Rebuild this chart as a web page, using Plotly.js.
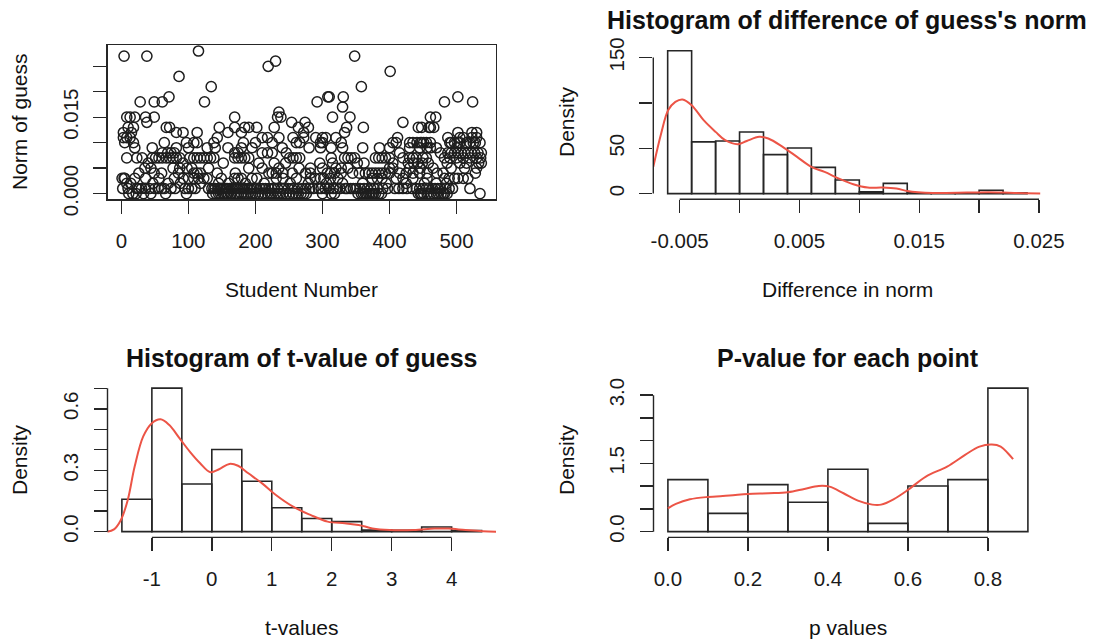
<!DOCTYPE html>
<html><head><meta charset="utf-8">
<script src="https://cdn.plot.ly/plotly-3.0.1.min.js"></script>
<style>html,body{margin:0;padding:0;background:#fff}#chart{width:1099px;height:643px}</style>
</head><body><div id="chart"></div>
<script>
// ---------- Panel 1: Norm of guess by student ----------
const normLevels = [0.000,0.001,0.002,0.003,0.004,0.005,0.006,0.007,0.008,0.009,0.010,0.011,0.012,0.013,0.014,0.015,0.016,0.017,0.018,0.019,0.021,0.023,0.024,0.025,0.026,0.027,0.028];
const studentsByLevel = [
 [11,17,22,33,44,66,97,136,141,145,148,152,154,157,159,163,164,169,172,175,179,183,186,189,193,196,200,205,210,214,218,222,225,230,234,237,241,246,251,256,260,264,268,272,276,300,313,318,353,358,361,364,366,369,371,374,376,379,384,388,443,446,448,451,456,461,466,470,473,477,480,482,486,535],
 [2,10,23,26,30,36,42,50,55,60,64,74,80,95,100,105,110,130,135,138,140,144,147,150,153,156,158,161,165,168,171,174,177,181,184,188,191,194,198,202,207,211,215,220,224,228,233,239,243,249,254,258,263,270,275,281,286,294,298,304,310,316,321,326,334,337,342,346,350,356,362,367,372,377,382,390,397,408,414,420,426,434,440,445,450,455,459,464,468,472,476,484,489,494,520],
 [8,14,47,70,88,118,145,160,185,213,252,279,306,330,360,395,425,452,470,485],
 [1,4,5,20,36,56,79,92,100,108,115,123,128,149,169,174,179,195,202,231,241,261,282,289,297,302,312,323,374,382,389,410,420,435,456,482,489,497,502,510,517],
 [26,49,60,85,108,113,118,143,170,220,225,231,241,255,275,282,307,312,318,328,345,355,364,369,374,379,384,389,394,400,415,425,435,445,456,471,480,528],
 [35,44,77,87,98,105,130,190,210,235,265,282,300,320,328,338,400,405,430,446,465,492,512,530],
 [40,92,152,205,228,245,296,315,352,362,405,428,436,442,449,458,486,505,515,533,537],
 [8,23,31,46,51,56,61,67,72,77,82,87,102,108,113,118,123,128,133,138,169,174,179,184,190,251,256,261,266,313,333,338,343,348,379,384,389,394,400,420,430,435,440,450,455,482,490,500,510,520,530,536],
 [61,69,74,79,169,174,210,218,225,246,415,476,487,492,497,502,507,512,517,522,527,532,537],
 [20,46,82,100,128,140,159,179,195,240,280,297,313,330,360,385,400,430,445,456,461,470,500],
 [5,18,64,97,108,113,138,182,200,225,261,266,297,300,328,405,410,430,435,441,446,448,451,455,461,490,492,497,502,505,515,520,525,528,535],
 [3,8,13,143,210,218,235,256,272,290,300,305,320,412,487,505,510,523,530],
 [3,15,82,92,113,159,179,272,333,502,523,530],
 [10,18,67,72,146,169,184,190,202,228,264,279,336,361,443,448,459,461,466],
 [38,254,274,420],
 [8,13,20,36,49,169,233,238,315,341,461,469],
 [235],
 [330],
 [28,49,61,124,292,482,524],
 [71,308,310,331,502],
 [134,358],
 [86],
 [401],
 [219],
 [230],
 [4,38,348],
 [115]
];

// ---------- Panel 2: Histogram of difference of guess's norm ----------
const diffBreaks  = [-0.006,-0.004,-0.002,0.000,0.002,0.004,0.006,0.008,0.010,0.012,0.014,0.016,0.018,0.020,0.022,0.024];
const diffDensity = [157.4,57.0,58.0,67.8,42.9,50.3,28.9,14.9,1.9,11.2,0.9,0.9,0.9,3.7,0.9];
const diffKdeX = [-0.0072,-0.00655,-0.00595,-0.00536,-0.00476,-0.0040,-0.0030,-0.0020,-0.0012,-0.00015,0.0006,0.00164,0.0024,0.0036,0.0048,0.0060,0.0071,0.0083,0.0095,0.0107,0.0119,0.0131,0.0140,0.0149,0.0161,0.0190,0.0208,0.0220,0.0238,0.0251];
const diffKdeY = [29.4,66,92,101,103.7,97.4,80.9,68,58.8,54.4,58,62.5,60.7,51.5,40.4,29.4,23.9,16.5,10.3,6.6,6.6,5.5,2.9,1.5,0.7,1.1,1.5,1.1,0.4,0];

// ---------- Panel 3: Histogram of t-value of guess ----------
const tBreaks  = [-1.5,-1.0,-0.5,0.0,0.5,1.0,1.5,2.0,2.5,3.0,3.5,4.0,4.5];
const tDensity = [0.158,0.701,0.233,0.401,0.246,0.117,0.064,0.049,0.008,0.007,0.023,0.005];
const tKdeX = [-1.747,-1.632,-1.517,-1.402,-1.287,-1.144,-1.0,-0.856,-0.713,-0.54,-0.368,-0.195,-0.023,0.121,0.293,0.437,0.609,0.839,1.069,1.356,1.644,1.931,2.218,2.448,2.678,2.966,3.368,3.713,3.943,4.23,4.517,4.747];
const tKdeY = [0,0.011,0.057,0.155,0.318,0.465,0.53,0.549,0.522,0.457,0.391,0.334,0.290,0.305,0.331,0.322,0.285,0.236,0.179,0.122,0.082,0.049,0.041,0.033,0.016,0.008,0.008,0.015,0.015,0.008,0.002,0];

// ---------- Panel 4: P-value for each point ----------
const pBreaks  = [0.0,0.1,0.2,0.3,0.4,0.5,0.6,0.7,0.8,0.9];
const pDensity = [1.144,0.403,1.034,0.645,1.372,0.183,1.005,1.144,3.154];
const pKdeX = [0.0,0.02,0.055,0.1,0.154,0.2,0.252,0.3,0.341,0.377,0.404,0.439,0.475,0.511,0.533,0.564,0.6,0.645,0.698,0.743,0.779,0.81,0.832,0.85,0.863];
const pKdeY = [0.513,0.609,0.711,0.763,0.792,0.829,0.844,0.866,0.939,1.005,0.99,0.844,0.682,0.594,0.594,0.711,0.917,1.21,1.43,1.687,1.87,1.914,1.87,1.724,1.592];

// ---------- Tick labels ----------
const p1XTicks = [0,100,200,300,400,500];
const p1YTicks = [0,0.005,0.010,0.015,0.020,0.025];
const p1YText  = ['0.000','','','0.015','',''];
const p2XTicks = [-0.005,0,0.005,0.010,0.015,0.020,0.025];
const p2XText  = ['-0.005','','0.005','','0.015','','0.025'];
const p2YTicks = [0,50,100,150];
const p2YText  = ['0','50','','150'];
const p3XTicks = [-1,0,1,2,3,4];
const p3YTicks = [0,0.1,0.2,0.3,0.4,0.5,0.6,0.7];
const p3YText  = ['0.0','','','0.3','','','0.6',''];
const p4XTicks = [0,0.2,0.4,0.6,0.8];
const p4XText  = ['0.0','0.2','0.4','0.6','0.8'];
const p4YTicks = [0,0.5,1.0,1.5,2.0,2.5,3.0];
const p4YText  = ['0.0','','','1.5','','','3.0'];

// ---------- build ----------
const W = 1099, H = 643;
const LINE = '#262626', RED = 'rgb(236,84,70)';
const FONT = 'Liberation Sans, Arial, Helvetica, sans-serif';
const px = v => v / W, py = v => 1 - v / H;

const sx = [], sy = [];
studentsByLevel.forEach((arr, i) => arr.forEach(s => { sx.push(s); sy.push(normLevels[i]); }));

function histTrace(breaks, dens, xa, ya) {
  const mids = [], widths = [];
  for (let i = 0; i < dens.length; i++) { mids.push((breaks[i] + breaks[i+1]) / 2); widths.push(breaks[i+1] - breaks[i]); }
  return {type:'bar', x:mids, y:dens, width:widths, xaxis:xa, yaxis:ya,
    marker:{color:'rgba(255,255,255,0)', line:{color:LINE, width:1.6}}, hoverinfo:'skip'};
}
function kde(x, y, xa, ya) {
  return {type:'scatter', mode:'lines', x:x, y:y, xaxis:xa, yaxis:ya,
    line:{color:RED, width:2, shape:'spline', smoothing:1}, hoverinfo:'skip'};
}

const data = [
  {type:'scatter', mode:'markers', x:sx, y:sy, xaxis:'x', yaxis:'y',
   marker:{symbol:'circle-open', size:10.2, color:'#1e1e1e', line:{width:1.5, color:'#1e1e1e'}}, hoverinfo:'skip'},
  histTrace(diffBreaks, diffDensity, 'x2', 'y2'),
  kde(diffKdeX, diffKdeY, 'x2', 'y2'),
  histTrace(tBreaks, tDensity, 'x3', 'y3'),
  kde(tKdeX, tKdeY, 'x3', 'y3'),
  histTrace(pBreaks, pDensity, 'x4', 'y4'),
  kde(pKdeX, pKdeY, 'x4', 'y4')
];

const TF = {family:FONT, size:20.5, color:'#1a1a1a'};
function xax(dom, rng, vals, text, anchor, box) {
  return {domain:dom, range:rng, anchor:anchor, tickmode:'array', tickvals:vals, ticktext:text,
    ticks:'outside', ticklen:13, tickwidth:1.4, tickcolor:LINE, tickfont:TF, ticklabelstandoff:10,
    showgrid:false, zeroline:false, showline:!!box, mirror:!!box, linecolor:LINE, linewidth:1.4, fixedrange:true};
}
function yax(dom, rng, vals, text, anchor, box) {
  return {domain:dom, range:rng, anchor:anchor, tickmode:'array', tickvals:vals, ticktext:text, tickangle:-90,
    ticks:'outside', ticklen:13, tickwidth:1.4, tickcolor:LINE, tickfont:TF, ticklabelstandoff:7,
    showgrid:false, zeroline:false, showline:!!box, mirror:!!box, linecolor:LINE, linewidth:1.4, fixedrange:true};
}

const dTop = [py(199.3), py(45)], dBot = [py(537.4), py(382.4)];
const dL1 = [px(107.7), px(495.7)], dR2 = [px(653.3), px(1041.4)];
const dL3 = [px(107.5), px(496)],  dR4 = [px(653.5), px(1042.3)];

const axisLines = [
  {xa:'x2', ya:'y2', x:[p2XTicks[0], p2XTicks[p2XTicks.length-1]], y:[p2YTicks[0], p2YTicks[p2YTicks.length-1]]},
  {xa:'x3', ya:'y3', x:[p3XTicks[0], p3XTicks[p3XTicks.length-1]], y:[p3YTicks[0], p3YTicks[p3YTicks.length-1]]},
  {xa:'x4', ya:'y4', x:[p4XTicks[0], p4XTicks[p4XTicks.length-1]], y:[p4YTicks[0], p4YTicks[p4YTicks.length-1]]}
];
const shapes = [];
axisLines.forEach(a => {
  shapes.push({type:'line', xref:a.xa, yref:a.ya+' domain', x0:a.x[0], x1:a.x[1], y0:0, y1:0, line:{color:LINE, width:1.4}});
  shapes.push({type:'line', xref:a.xa+' domain', yref:a.ya, x0:0, x1:0, y0:a.y[0], y1:a.y[1], line:{color:LINE, width:1.4}});
});

function ann(text, x, y, size, angle, bold) {
  return {text: bold ? '<b>'+text+'</b>' : text, xref:'paper', yref:'paper', x:px(x), y:py(y),
    xanchor:'center', yanchor:'middle', showarrow:false, textangle:angle||0,
    font:{family:FONT, size:size, color:'#111'}};
}
const annotations = [
  ann("Histogram of difference of guess's norm", 847.4, 20, 25, 0, true),
  ann('Histogram of t-value of guess', 301.8, 358, 25, 0, true),
  ann('P-value for each point', 847.9, 358, 25, 0, true),
  ann('Student Number', 301.7, 289, 21),
  ann('Difference in norm', 847.4, 290, 21),
  ann('t-values', 301.8, 627, 21),
  ann('p values', 847.9, 627, 21),
  ann('Norm of guess', 19, 122, 21, -90),
  ann('Density', 566, 122, 21, -90),
  ann('Density', 19, 460, 21, -90),
  ann('Density', 566, 460, 21, -90)
];

const layout = {
  width:W, height:H, margin:{l:0, r:0, t:0, b:0}, autosize:false,
  paper_bgcolor:'#fff', plot_bgcolor:'#fff', showlegend:false, font:{family:FONT, color:'#1a1a1a'},
  xaxis:  xax(dL1, [-20.44, 558.44], p1XTicks, p1XTicks.map(String), 'y', true),
  yaxis:  yax(dTop, [-0.001122, 0.029178], p1YTicks, p1YText, 'x', true),
  xaxis2: xax(dR2, [-0.0072, 0.0252], p2XTicks, p2XText, 'y2', false),
  yaxis2: yax(dTop, [-6.3, 163.7], p2YTicks, p2YText, 'x2', false),
  xaxis3: xax(dL3, [-1.74, 4.74], p3XTicks, p3XTicks.map(String), 'y3', false),
  yaxis3: yax(dBot, [-0.028, 0.729], p3YTicks, p3YText, 'x3', false),
  xaxis4: xax(dR4, [-0.036, 0.936], p4XTicks, p4XText, 'y4', false),
  yaxis4: yax(dBot, [-0.126, 3.28], p4YTicks, p4YText, 'x4', false),
  shapes:shapes, annotations:annotations, bargap:0
};

Plotly.newPlot('chart', data, layout, {staticPlot:true, displayModeBar:false});
</script>
</body></html>
